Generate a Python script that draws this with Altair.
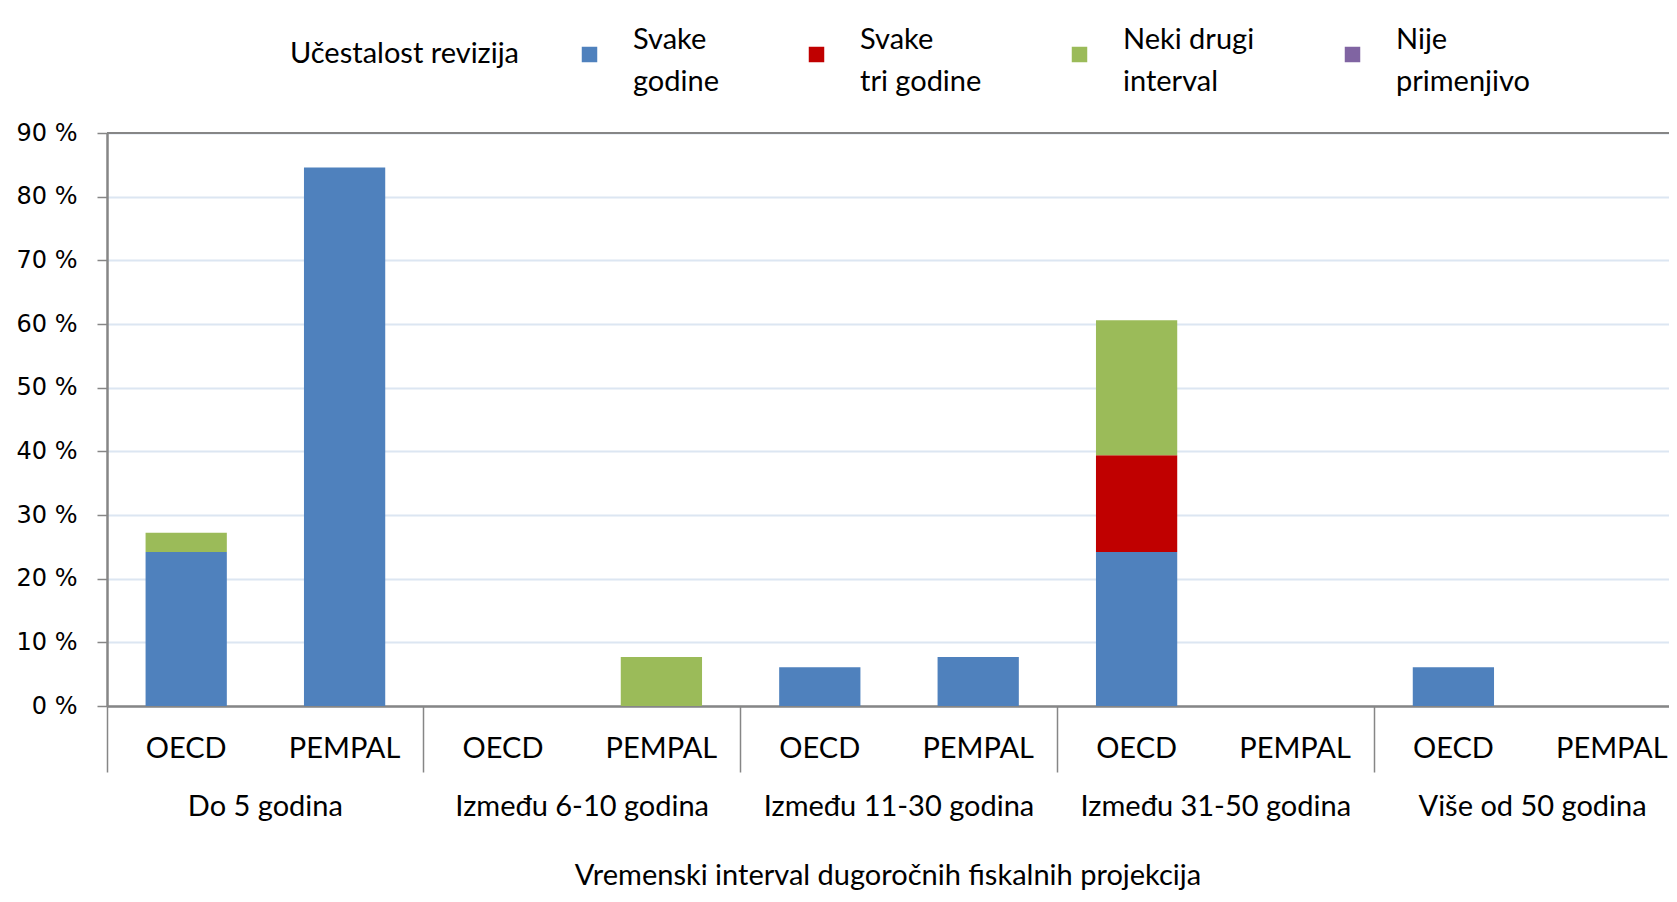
import altair as alt
import pandas as pd

groups = ["Do 5 godina", "Između 6-10 godina", "Između 11-30 godina",
          "Između 31-50 godina", "Više od 50 godina"]
subgroups = ["OECD", "PEMPAL"]
series = ["Svake|godine", "Svake|tri godine", "\u00a0\u00a0Neki drugi|interval", "\u00a0Nije|primenjivo"]
colors = ["#4F81BD", "#C00000", "#9BBB59", "#8064A2"]

# values in %, order of groups above
svake_godine_oecd = [24.2, 0.0, 6.1, 24.2, 6.1]
svake_godine_pempal = [84.6, 0.0, 7.7, 0.0, 0.0]
svake_tri_oecd = [0.0, 0.0, 0.0, 15.2, 0.0]
svake_tri_pempal = [0.0, 0.0, 0.0, 0.0, 0.0]
neki_drugi_oecd = [3.0, 0.0, 0.0, 21.2, 0.0]
neki_drugi_pempal = [0.0, 7.7, 0.0, 0.0, 0.0]
nije_oecd = [0.0, 0.0, 0.0, 0.0, 0.0]
nije_pempal = [0.0, 0.0, 0.0, 0.0, 0.0]

y_ticks = [0, 10, 20, 30, 40, 50, 60, 70, 80, 90]
x_title = "Vremenski interval dugoročnih fiskalnih projekcija"
legend_title = "Učestalost revizija"

values = {
    (series[0], "OECD"): svake_godine_oecd, (series[0], "PEMPAL"): svake_godine_pempal,
    (series[1], "OECD"): svake_tri_oecd, (series[1], "PEMPAL"): svake_tri_pempal,
    (series[2], "OECD"): neki_drugi_oecd, (series[2], "PEMPAL"): neki_drugi_pempal,
    (series[3], "OECD"): nije_oecd, (series[3], "PEMPAL"): nije_pempal,
}

slots = [f"{g}|{s}" for g in groups for s in subgroups]
rows = []
for (ser, sub), vals in values.items():
    for gi, g in enumerate(groups):
        rows.append({"slot": f"{g}|{sub}", "series": ser, "order": series.index(ser),
                     "value": vals[gi]})
bars_df = pd.DataFrame(rows)
slot_df = pd.DataFrame([{"slot": f"{g}|{s}", "group": g, "sub": s}
                        for g in groups for s in subgroups])
group_df = slot_df[slot_df["sub"] == "PEMPAL"]
first_slots = [f"{g}|OECD" for g in groups]

W, H = 1562, 573
SLOT_RANGE = 1584
FONT = "Lato"
FS = 29
AXIS_GRAY = "#868686"

xscale = alt.Scale(domain=slots, range=[0, SLOT_RANGE], paddingInner=0, paddingOuter=0)

bars = alt.Chart(bars_df).mark_bar(width=alt.RelativeBandSize(0.513)).encode(
    x=alt.X("slot:N", sort=slots, scale=xscale,
            axis=alt.Axis(values=first_slots, bandPosition=0, labels=False, title=None,
                          ticks=True, tickSize=66, tickColor=AXIS_GRAY, tickWidth=1.5,
                          domainColor=AXIS_GRAY, domainWidth=2.5, grid=False)),
    y=alt.Y("value:Q", stack="zero",
            scale=alt.Scale(domain=[0, 90], nice=False),
            axis=alt.Axis(values=y_ticks, labelExpr="datum.value + ' %'", title=None,
                          labelFont="DejaVu Sans", labelFontSize=24, labelColor="black",
                          labelPadding=20, tickSize=10, tickColor=AXIS_GRAY, tickWidth=1.5,
                          domainColor=AXIS_GRAY, domainWidth=2.5,
                          grid=True, gridColor="#DCE6F2", gridWidth=2)),
    color=alt.Color("series:N", scale=alt.Scale(domain=series, range=colors),
                    legend=alt.Legend(
                        orient="none", legendX=183, legendY=-93,
                        direction="horizontal", columns=4, gridAlign="none",
                        title=legend_title, titleOrient="left", titleFont=FONT,
                        titleFontSize=FS, titleFontWeight="normal", titleColor="black",
                        titlePadding=55, titleAnchor="start", titleBaseline="top",
                        titleLimit=500,
                        labelExpr="split(datum.label, '|')", labelFont=FONT,
                        labelFontSize=FS, labelColor="black", labelLimit=0,
                        labelBaseline="bottom",
                        labelOffset=29, symbolType="square", symbolSize=240,
                        symbolStrokeWidth=0, symbolOpacity=1, columnPadding=83)),
    order=alt.Order("order:Q"),
)

top_rule = alt.Chart(pd.DataFrame({"v": [90]})).mark_rule(
    color=AXIS_GRAY, strokeWidth=2).encode(y="v:Q")

sub_text = alt.Chart(slot_df).mark_text(font=FONT, fontSize=FS, color="black",
                                        baseline="middle").encode(
    x=alt.X("slot:N", sort=slots, scale=xscale),
    y=alt.value(H + 43),
    text="sub:N",
)

group_text = alt.Chart(group_df).mark_text(font=FONT, fontSize=FS, color="black",
                                           baseline="middle").encode(
    x=alt.X("slot:N", sort=slots, scale=xscale, bandPosition=0),
    y=alt.value(H + 101),
    text="group:N",
)

title_text = alt.Chart(pd.DataFrame({"t": [x_title]})).mark_text(
    font=FONT, fontSize=FS, color="black", baseline="middle").encode(
    x=alt.value(W / 2), y=alt.value(H + 170), text="t:N")

chart = alt.layer(bars, top_rule, sub_text, group_text, title_text).properties(
    width=W, height=H,
    autosize=alt.AutoSizeParams(type="none"),
    padding={"left": 99, "top": 125, "right": 0, "bottom": 188},
).configure_view(strokeWidth=0).configure(
    background="white", style={"guide-label": {"lineHeight": 42}}
)

chart.save("out.html", embed_options={"renderer": "svg", "actions": False})
